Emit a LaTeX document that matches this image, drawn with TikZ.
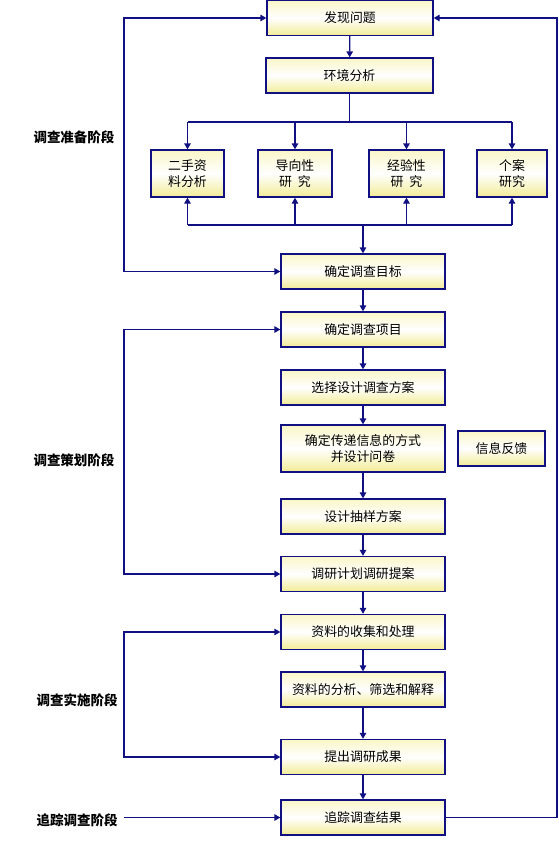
\documentclass[tikz,border=0pt]{standalone}
\usepackage{fontspec}
\setmainfont{Noto Sans CJK SC}
\usetikzlibrary{arrows.meta,calc}
\definecolor{navyline}{RGB}{16,16,130}
\definecolor{boxtop}{RGB}{250,246,200}
\definecolor{boxbot}{RGB}{242,236,150}
\begin{document}
\begin{tikzpicture}[x=1pt,y=-1pt,
  line/.style={draw=navyline,line width=1.3pt},
  arr/.style={line,-{Triangle[length=6pt,width=6.5pt]}},
  darr/.style={line,{Triangle[length=6pt,width=6.5pt]}-{Triangle[length=6pt,width=6.5pt]}},
  box/.style={draw=navyline,line width=1.3pt,top color=boxtop,bottom color=boxbot,middle color=white,
    minimum width=164pt,minimum height=35pt,inner sep=0pt,align=center,
    font=\fontsize{12.9}{16.5}\selectfont},
  sbox/.style={box,minimum height=47pt},
  stage/.style={font=\fontsize{13.5}{16}\selectfont\bfseries,inner sep=0pt}]
\useasboundingbox (0,0) rectangle (558,844);
% main boxes
\node[box,minimum width=166pt] (p1) at (350,18) {发现问题};
\node[box,minimum width=167pt] (p2) at (349.5,75.5) {环境分析};
\node[sbox,minimum width=73pt] (s1) at (187.5,173.5) {二手资\\料分析};
\node[sbox,minimum width=74pt] (s2) at (295,173.5) {导向性\\研\ \ 究};
\node[sbox,minimum width=75pt] (s3) at (406.5,173.5) {经验性\\研\ \ 究};
\node[sbox,minimum width=70pt] (s4) at (512,173.5) {个案\\研究};
\node[box] (p3) at (363,271.5) {确定调查目标};
\node[box] (p4) at (363,329.5) {确定调查项目};
\node[box] (p5) at (363,387.5) {选择设计调查方案};
\node[sbox] (p6) at (363,448.5) {确定传递信息的方式\\并设计问卷};
\node[box,minimum width=87pt] (fb) at (501.5,448.5) {信息反馈};
\node[box] (p7) at (363,516.5) {设计抽样方案};
\node[box] (p8) at (363,574) {调研计划调研提案};
\node[box] (p9) at (363,632) {资料的收集和处理};
\node[box] (p10) at (363,689.5) {资料的分析、筛选和解释};
\node[box] (p11) at (363,757) {提出调研成果};
\node[box] (p12) at (363,817.5) {追踪调查结果};
% stage labels
\node[stage] (l1) at (74,137) {调查准备阶段};
\node[stage] (l2) at (74,460) {调查策划阶段};
\node[stage] (l3) at (77,700) {调查实施阶段};
\node[stage] (l4) at (77,820) {追踪调查阶段};
% helper coordinates
\coordinate (L) at (124,0);
\coordinate (R) at (557,0);
\coordinate (topbar) at (0,122);
\coordinate (botbar) at (0,225);
\coordinate (l4end) at (124,817.5);
% vertical chain
\draw[arr] (p1) -- (p2);
\draw[arr] (p3) -- (p4);
\draw[arr] (p4) -- (p5);
\draw[arr] (p5) -- (p6);
\draw[arr] (p6) -- (p7);
\draw[arr] (p7) -- (p8);
\draw[arr] (p8) -- (p9);
\draw[arr] (p9) -- (p10);
\draw[arr] (p10) -- (p11);
\draw[arr] (p11) -- (p12);
% distribution
\draw[line] (p2.south) -- (p2.south |- topbar);
\draw[line] (s1.north |- topbar) -- (s4.north |- topbar);
\foreach \s in {s1,s2,s3,s4} \draw[arr] (\s.north |- topbar) -- (\s.north);
\draw[line] (s1.south |- botbar) -- (s4.south |- botbar);
\foreach \s in {s1,s2,s3,s4} \draw[arr] (\s.south |- botbar) -- (\s.south);
\draw[arr] (p3.north |- botbar) -- (p3.north);
% left loops
\draw[darr] (p1.west) -- (p1.west -| L) -- (p3.west -| L) -- (p3.west);
\draw[darr] (p4.west) -- (p4.west -| L) -- (p8.west -| L) -- (p8.west);
\draw[darr] (p9.west) -- (p9.west -| L) -- (p11.west -| L) -- (p11.west);
\draw[arr] (l4end) -- (p12.west);
% right feedback loop
\draw[arr] (p12.east) -- (p12.east -| R) -- (p1.east -| R) -- (p1.east);
\end{tikzpicture}
\end{document}
